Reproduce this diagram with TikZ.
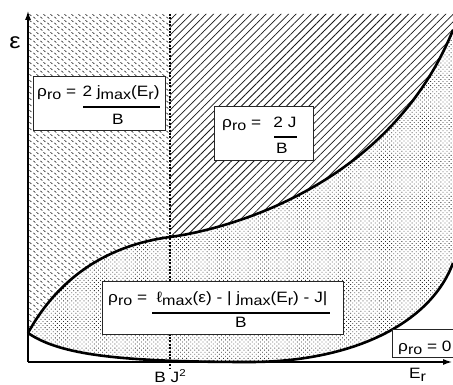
\documentclass[tikz,border=0pt]{standalone}
\usepackage{fontspec}
\setmainfont{Liberation Sans}[FakeStretch=1.15]
\usetikzlibrary{patterns,patterns.meta,arrows.meta}

% short dashes on a staggered grid
\pgfdeclarepattern{
  name=dashgrid, type=uncolored,
  bottom left=\pgfpointorigin, top right={\pgfpoint{6.5pt}{6pt}},
  tile size={\pgfpoint{6.5pt}{6pt}},
  code={
    \pgfsetlinewidth{0.75pt}
    \pgfpathmoveto{\pgfpoint{0.5pt}{2.5pt}}\pgfpathlineto{\pgfpoint{2.5pt}{0.5pt}}
    \pgfpathmoveto{\pgfpoint{3.75pt}{5.5pt}}\pgfpathlineto{\pgfpoint{5.75pt}{3.5pt}}
    \pgfusepath{stroke}
  }}

\newcommand{\lowsub}[1]{\raisebox{-2.5pt}{\fontsize{14}{14}\selectfont #1}}
\newcommand{\rhoro}{ρ\lowsub{ro}}

\tikzset{
  axis/.style={line width=2pt, -{Latex[length=10pt,width=6pt]}},
  curve/.style={line width=2.6pt},
  splitline/.style={line width=2.2pt, dash pattern=on 2pt off 1.4pt},
  infobox/.style={draw=black!85, line width=1pt, fill=white, inner sep=0pt},
  fracbar/.style={line width=2.4pt},
  eqtext/.style={inner sep=0pt, font=\fontsize{15}{17}\selectfont},
}

\begin{document}
\begin{tikzpicture}[x=1pt,y=1pt]
  \useasboundingbox (0,0) rectangle (453,385);
  \coordinate (o) at (28,23);
  \coordinate (ytop) at (28,375);
  \coordinate (xend) at (453,23);
  \coordinate (start) at (28,52);
  \coordinate (cross) at (170,148);
  \coordinate (upexit) at (453,355);
  \coordinate (lowexit) at (453,122);
  \coordinate (low) at (250,23);

  % regions
  \fill[pattern=dashgrid, pattern color=black!80] (28,371) -- (start)
    .. controls (60,110) and (110,140) .. (cross) -- (170,371) -- cycle;
  \fill[pattern={Lines[angle=45,distance=5.3pt,line width=0.75pt]}, pattern color=black!90]
    (170,371) -- (cross) .. controls (230,156) and (390,200) .. (upexit) -- (453,371) -- cycle;
  \fill[pattern={Dots[distance=2.9pt,angle=45,radius=0.6pt]}, pattern color=black!80]
    (start) .. controls (60,110) and (110,140) .. (cross)
    .. controls (230,156) and (390,200) .. (upexit) -- (lowexit)
    .. controls (430,60) and (350,23) .. (low)
    .. controls (120,23) and (60,30) .. (start) -- cycle;

  % boundaries
  \draw[curve] (start) .. controls (60,110) and (110,140) .. (cross)
    .. controls (230,156) and (390,200) .. (upexit);
  \draw[curve] (start) .. controls (60,30) and (120,23) .. (low)
    .. controls (350,23) and (430,60) .. (lowexit);
  \draw[splitline] (170,371) -- (170,17);
  \draw[axis] (o) -- (ytop);
  \draw[axis] (o) -- (xend);

  % axis labels
  \node[inner sep=0pt, font=\fontsize{22}{22}\selectfont] (eps) at (15,342) {ε};
  \node[eqtext, anchor=base west] (er) at (409,6) {E\lowsub{r}};
  \node[eqtext, anchor=base] (bj) at (170,2) {B J\raisebox{6pt}{\fontsize{10}{10}\selectfont 2}};

  % boxes
  \node[infobox, minimum width=132pt, minimum height=54pt] (boxA) at (99,281) {};
  \node[eqtext, anchor=base west] (lhsA) at (37,288) {\rhoro{} =};
  \node[eqtext, anchor=base] (numA) at (121,288) {2 j\lowsub{max}(E\lowsub{r})};
  \draw[fracbar] (83,278) -- (160,278);
  \node[eqtext, anchor=base] (denA) at (118,260) {B};

  \node[infobox, minimum width=99pt, minimum height=54pt] (boxB) at (263.5,251) {};
  \node[eqtext, anchor=base west] (lhsB) at (222,257) {\rhoro{} =};
  \node[eqtext, anchor=base] (numB) at (285,257) {2 J};
  \draw[fracbar] (274,248) -- (297,248);
  \node[eqtext, anchor=base] (denB) at (282,231) {B};

  \node[infobox, minimum width=241pt, minimum height=53pt] (boxC) at (222.5,76.5) {};
  \node[eqtext, anchor=base west] (lhsC) at (108,82) {\rhoro{} =};
  \node[eqtext, anchor=base] (numC) at (242,82) {ℓ\lowsub{max}(ε) - | j\lowsub{max}(E\lowsub{r}) - J|};
  \draw[fracbar] (152,72) -- (330,72);
  \node[eqtext, anchor=base] (denC) at (241,57) {B};

  \node[infobox, minimum width=66pt, minimum height=28pt] (boxD) at (425,41) {};
  \node[eqtext, anchor=base west] (lhsD) at (398,33) {\rhoro{} = 0};
\end{tikzpicture}
\end{document}
